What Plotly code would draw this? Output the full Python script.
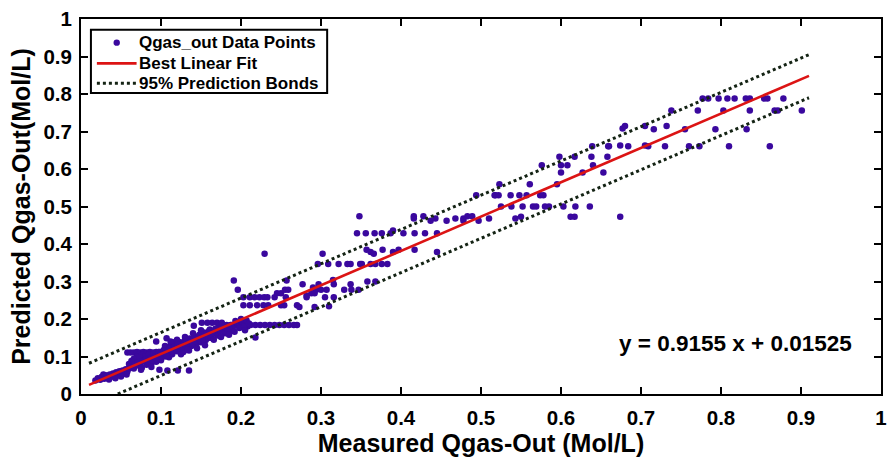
import plotly.graph_objects as go

# ---- data ----
low_x = [0.018,0.021,0.024,0.026,0.029,0.031,0.033,0.036,0.038,0.040,0.042,0.044,0.046,0.048,0.050,0.052,0.054,0.056,0.058,0.060,0.028,0.035,0.043,0.050,0.057]
low_y = [0.036,0.042,0.038,0.046,0.041,0.050,0.044,0.052,0.046,0.055,0.049,0.058,0.052,0.061,0.055,0.063,0.058,0.066,0.060,0.068,0.052,0.039,0.042,0.047,0.052]

b_x = [0.058,0.062,0.066,0.070,0.074,0.078,0.082,0.086,0.090,0.094,0.098,
       0.062,0.064,0.066,0.068,0.070,0.072,0.074,0.076,0.078,0.080,0.082,0.084,0.086,0.088,0.090,0.092,0.094,0.096,0.098,0.100,0.070,0.076,0.080,0.066,
       0.075,0.088,0.098,0.108,0.121,0.135,0.094,0.107]
b_y = [0.111,0.111,0.111,0.112,0.111,0.112,0.111,0.112,0.111,0.112,0.112,
       0.072,0.080,0.068,0.086,0.076,0.092,0.082,0.070,0.096,0.086,0.078,0.100,0.090,0.082,0.102,0.094,0.086,0.104,0.097,0.090,0.100,0.104,0.100,0.094,
       0.065,0.072,0.065,0.063,0.063,0.063,0.140,0.149]

c_x = [0.102,0.104,0.106,0.108,0.110,0.112,0.114,0.116,0.118,0.120,0.122,0.124,0.126,0.128,0.130,0.132,0.134,0.136,0.138,0.140,0.142,0.144,0.146,0.148,0.150,0.152,0.154,0.156,0.158,0.160,
       0.105,0.110,0.115,0.125,0.130,0.135,0.140,0.145,0.150,0.155,0.112,0.120,0.128]
c_y = [0.108,0.118,0.100,0.124,0.112,0.130,0.106,0.120,0.134,0.114,0.126,0.138,0.118,0.132,0.144,0.124,0.136,0.148,0.128,0.142,0.154,0.132,0.146,0.158,0.138,0.152,0.164,0.144,0.156,0.168,
       0.128,0.098,0.138,0.106,0.152,0.116,0.162,0.122,0.170,0.130,0.140,0.145,0.112]

dense_x = [0.060,0.063,0.067,0.071,0.073,0.077,0.081,0.083,0.085,0.087,0.089,0.091,0.093,0.095,0.097,0.099,0.101,0.103,0.105,0.107,0.109,0.111,0.113,0.117,0.119,0.121,0.123,0.127,0.129,0.131,0.133,0.137,0.139,0.141,0.143,0.147,0.149,0.151,0.153,0.157,0.159,0.161,0.163,0.167,0.169,0.172,0.178,0.181,0.184,0.187,0.190,0.196,0.199,0.202,0.208]
dense_y = [0.080,0.088,0.078,0.084,0.098,0.088,0.092,0.086,0.106,0.096,0.090,0.108,0.100,0.092,0.112,0.104,0.098,0.116,0.108,0.104,0.118,0.122,0.114,0.126,0.118,0.132,0.122,0.124,0.138,0.130,0.118,0.140,0.134,0.148,0.140,0.150,0.144,0.158,0.146,0.160,0.150,0.172,0.158,0.168,0.160,0.178,0.170,0.182,0.166,0.184,0.170,0.182,0.188,0.186,0.180]

d_x = [0.141,0.151,0.158,0.164,0.170,0.176,
       0.182,0.188,0.194,0.200,0.206,0.212,0.218,0.224,0.230,0.236,0.242,0.248,0.254,0.260,0.266,0.270,
       0.162,0.165,0.168,0.171,0.174,0.177,0.180,0.183,0.186,0.189,0.192,0.195,0.198,0.201,0.204,0.207,0.210,0.166,0.175,0.185,0.193,0.200,0.218,0.205]
d_y = [0.182,0.190,0.190,0.190,0.190,0.190,
       0.184,0.184,0.184,0.184,0.184,0.184,0.184,0.184,0.184,0.184,0.184,0.184,0.184,0.184,0.184,0.184,
       0.150,0.162,0.174,0.156,0.168,0.180,0.162,0.174,0.170,0.178,0.166,0.190,0.176,0.194,0.180,0.196,0.188,0.145,0.152,0.158,0.195,0.200,0.151,0.170]

e_x = [0.191,0.196,0.203,0.211,0.217,0.223,0.229,0.233,0.242,0.203,0.211,0.220,0.228,0.234,0.250,0.254,0.270,0.273,0.245,0.250,0.255,0.259,0.257,0.256,0.2295]
e_y = [0.303,0.278,0.258,0.258,0.258,0.258,0.258,0.258,0.258,0.237,0.237,0.237,0.237,0.237,0.237,0.237,0.237,0.232,0.269,0.269,0.278,0.278,0.303,0.258,0.374]

f_x = [0.277,0.282,0.290,0.294,0.292,0.296,0.300,0.307,0.305,0.302,0.309,0.315,0.316,0.316,0.322,0.329,0.333,0.337,0.337,0.338,0.347,0.345,0.348,0.349,0.351,0.356,0.357,0.358,0.362,0.366,0.362,0.367,0.368,0.368,0.376,0.377,0.376,0.383,0.387,0.390,0.390,0.397,0.403,0.416,0.416,0.417,0.417,0.428,0.430,0.437,0.443,0.445,0.445,0.457,0.468,0.478,0.478,0.483,0.489,0.497,0.494,0.510,0.517,
       0.282,0.288,0.292,0.297,0.310]
f_y = [0.293,0.258,0.284,0.278,0.232,0.347,0.278,0.278,0.258,0.374,0.347,0.304,0.293,0.258,0.347,0.278,0.347,0.347,0.293,0.278,0.278,0.429,0.474,0.347,0.347,0.429,0.385,0.300,0.379,0.374,0.347,0.429,0.300,0.347,0.429,0.385,0.347,0.347,0.429,0.436,0.379,0.385,0.429,0.474,0.468,0.429,0.385,0.474,0.429,0.462,0.468,0.429,0.379,0.462,0.468,0.468,0.462,0.474,0.474,0.462,0.530,0.468,0.530,
       0.263,0.269,0.269,0.293,0.234]

g_x = [0.518,0.522,0.523,0.525,0.537,0.538,0.543,0.550,0.548,0.552,0.557,0.561,0.565,0.569,0.574,0.578,0.576,0.580,0.585,0.595,0.598,0.600,0.600,0.603,0.608,0.612,0.617,0.617,0.618,0.627,0.636,0.638,0.639,0.640,0.653,0.658,0.659,0.660,0.674,0.674,0.677,0.680,0.684,0.705,0.705,0.709,0.716,0.730,0.732,
       0.738,0.755,0.760,0.771,0.773,0.777,0.784,0.793,0.797,0.803,0.808,0.810,0.817,0.831,0.836,0.836,0.832,0.854,0.858,0.861,0.867,0.871,0.878,0.901]
g_y = [0.530,0.530,0.559,0.500,0.530,0.500,0.468,0.473,0.530,0.500,0.530,0.559,0.500,0.500,0.530,0.530,0.610,0.500,0.500,0.559,0.633,0.610,0.591,0.500,0.610,0.473,0.473,0.633,0.500,0.591,0.500,0.633,0.661,0.610,0.591,0.633,0.661,0.661,0.663,0.473,0.708,0.715,0.661,0.715,0.663,0.661,0.706,0.661,0.715,
       0.756,0.706,0.661,0.756,0.661,0.788,0.788,0.706,0.788,0.756,0.788,0.661,0.788,0.788,0.788,0.756,0.706,0.788,0.788,0.661,0.756,0.756,0.788,0.756]

meas_x = low_x + b_x + c_x + dense_x + d_x + e_x + f_x + g_x
pred_y = low_y + b_y + c_y + dense_y + d_y + e_y + f_y + g_y

fit_x = [0.01, 0.91]
fit_y = [0.0244, 0.8484]
upper_x = [0.01, 0.91]
upper_y = [0.082, 0.905]
lower_x = [0.046, 0.91]
lower_y = [0.0, 0.790]

x_ticks = [0, 0.1, 0.2, 0.3, 0.4, 0.5, 0.6, 0.7, 0.8, 0.9, 1]
tick_text = ["0", "0.1", "0.2", "0.3", "0.4", "0.5", "0.6", "0.7", "0.8", "0.9", "1"]

legend_labels = ["Qgas_out Data Points", "Best Linear Fit", "95% Prediction Bonds"]

PT_COLOR = "rgb(58,8,158)"
FIT_COLOR = "rgb(220,20,20)"
BND_COLOR = "rgb(20,35,20)"
FONT = "Liberation Sans, Arial, sans-serif"

fig = go.Figure()
fig.add_trace(go.Scatter(x=meas_x, y=pred_y, mode="markers", name=legend_labels[0],
                         marker=dict(color=PT_COLOR, size=6.5), showlegend=False))
fig.add_trace(go.Scatter(x=fit_x, y=fit_y, mode="lines", name=legend_labels[1],
                         line=dict(color=FIT_COLOR, width=2.6), showlegend=False))
fig.add_trace(go.Scatter(x=upper_x, y=upper_y, mode="lines", name=legend_labels[2],
                         line=dict(color=BND_COLOR, width=3, dash="dot"), showlegend=False))
fig.add_trace(go.Scatter(x=lower_x, y=lower_y, mode="lines", showlegend=False,
                         line=dict(color=BND_COLOR, width=3, dash="dot")))

axis_common = dict(range=[0, 1], tickvals=x_ticks, ticktext=tick_text, showgrid=False, zeroline=False,
                   showline=True, linecolor="black", linewidth=2, mirror="allticks",
                   ticks="inside", ticklen=7, tickwidth=2, tickcolor="black",
                   tickfont=dict(family=FONT, size=20.5, color="black", weight="bold"))
fig.update_xaxes(**axis_common, ticklabelstandoff=4,
                 title=dict(text="Measured Qgas-Out (Mol/L)", standoff=4,
                            font=dict(family=FONT, size=25, color="black", weight="bold")))
fig.update_yaxes(**axis_common, ticklabelstandoff=3,
                 title=dict(text="Predicted Qgas-Out(Mol/L)", standoff=6,
                            font=dict(family=FONT, size=25, color="black", weight="bold")))

fig.add_annotation(x=0.8176, y=0.134, xref="x", yref="y", text="y = 0.9155 x + 0.01525", showarrow=False,
                   font=dict(family=FONT, size=22.5, color="black", weight="bold"))

# ---- legend box (MATLAB style, compact rows) ----
def px_x(p):
    return (p - 81) / 806.0

def px_y(p):
    return (394 - p) / 380.0

shapes = [dict(type="rect", xref="paper", yref="paper", x0=px_x(91), x1=px_x(329), y0=px_y(89), y1=px_y(25),
               line=dict(color="black", width=2), fillcolor="white", layer="above")]
rows = [38, 59, 79]
shapes.append(dict(type="circle", xref="paper", yref="paper",
                   x0=px_x(117 - 3.2), x1=px_x(117 + 3.2), y0=px_y(rows[0] + 3.2), y1=px_y(rows[0] - 3.2),
                   fillcolor=PT_COLOR, line=dict(color=PT_COLOR, width=0), layer="above"))
shapes.append(dict(type="line", xref="paper", yref="paper", x0=px_x(97), x1=px_x(137), y0=px_y(rows[1]), y1=px_y(rows[1]),
                   line=dict(color=FIT_COLOR, width=2.6), layer="above"))
shapes.append(dict(type="line", xref="paper", yref="paper", x0=px_x(97), x1=px_x(139), y0=px_y(rows[2]), y1=px_y(rows[2]),
                   line=dict(color=BND_COLOR, width=3, dash="dot"), layer="above"))
for lab, r in zip(legend_labels, rows):
    fig.add_annotation(x=px_x(137), y=px_y(r), xref="paper", yref="paper", text=lab, showarrow=False,
                       xanchor="left", yanchor="middle",
                       font=dict(family=FONT, size=17, color="black", weight="bold"))

fig.update_layout(width=894, height=462, margin=dict(l=81, r=7, t=14, b=68),
                  paper_bgcolor="white", plot_bgcolor="white", shapes=shapes, showlegend=False)

fig.write_html("out.html")
